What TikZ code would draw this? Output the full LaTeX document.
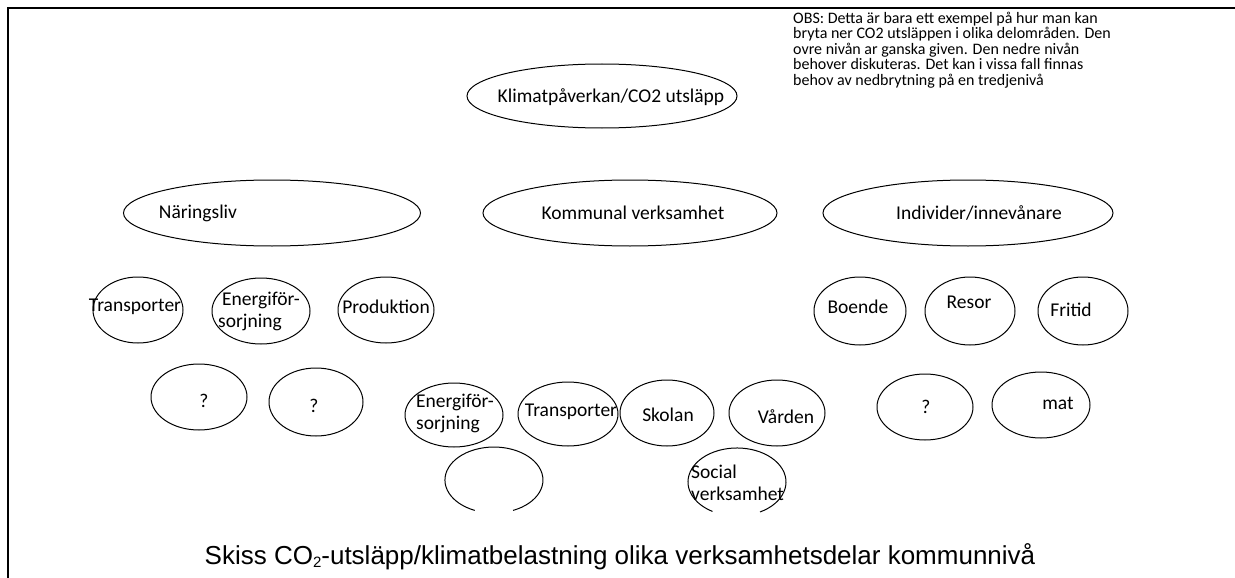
\documentclass[tikz,border=0pt]{standalone}
\usepackage{fontspec}
\setmainfont{Carlito}
\newfontfamily\capfont{Liberation Sans}
\usetikzlibrary{shapes.geometric}
\begin{document}
\begin{tikzpicture}[x=1pt, y=-1pt,
  oval/.style n args={2}{ellipse, draw, line width=1pt, inner sep=0pt, minimum width=#1pt, minimum height=#2pt},
  txt/.style={font=\fontsize{19.5}{22}\selectfont, inner sep=0pt, align=left},
  obs/.style={font=\fontsize{16}{15.4}\selectfont, inner sep=0pt, align=left, anchor=north west}]
\useasboundingbox (0,0) rectangle (1235,578);
\draw[line width=1.5pt] (8,578) -- (8,8) -- (1235,8);
\node[obs] (note) at (793,12) {OBS: Detta är bara ett exempel på hur man kan\\bryta ner CO2 utsläppen i olika delområden. Den\\ovre nivån ar ganska given. Den nedre nivån\\behover diskuteras. Det kan i vissa fall finnas\\behov av nedbrytning på en tredjenivå};
\node[oval={270}{64}] (klimat) at (602,96) {};
\node[txt] (klimat-t) at (611,97) {Klimatpåverkan/CO2 utsläpp};
\node[oval={297}{66}] (naring) at (272,213) {};
\node[txt] (naring-t) at (198,213) {Näringsliv};
\node[oval={294}{66}] (kommun) at (630,213) {};
\node[txt] (kommun-t) at (633,213) {Kommunal verksamhet};
\node[oval={290}{66}] (individ) at (968,213) {};
\node[txt] (individ-t) at (979,213) {Individer/innevånare};
\node[oval={90}{66}] (n-trans) at (138,310) {};
\node[txt] (n-trans-t) at (135,307) {Transporter};
\node[oval={98}{66}] (n-energi) at (261,311) {};
\node[txt, anchor=west] (n-energi-t) at (218,311) {\hspace{4pt}Energiför-\\sorjning};
\node[oval={96}{66}] (n-prod) at (386,310) {};
\node[txt] (n-prod-t) at (386,307) {Produktion};
\node[oval={92}{68}] (i-boende) at (860,311) {};
\node[txt] (i-boende-t) at (858,307) {Boende};
\node[oval={90}{68}] (i-resor) at (970,311) {};
\node[txt] (i-resor-t) at (969,302) {Resor};
\node[oval={90}{68}] (i-fritid) at (1083,311) {};
\node[txt] (i-fritid-t) at (1071,310) {Fritid};
\node[oval={96}{66}] (n-q1) at (199,397) {};
\node[txt] (n-q1-t) at (204,401) {?};
\node[oval={94}{68}] (n-q2) at (316,402) {};
\node[txt] (n-q2-t) at (314,406) {?};
\node[oval={98}{64}] (k-energi) at (454,415) {};
\node[txt, anchor=west] (k-energi-t) at (416,413) {Energiför-\\sorjning};
\node[oval={100}{64}] (k-trans) at (568,414) {};
\node[txt] (k-trans-t) at (571,412) {Transporter};
\node[oval={94}{66}] (k-skola) at (667,413) {};
\node[txt] (k-skola-t) at (668,415) {Skolan};
\node[oval={96}{66}] (k-varden) at (777,413) {};
\node[txt] (k-varden-t) at (786,417) {Vården};
\node[oval={96}{66}] (i-q) at (925,407) {};
\node[txt] (i-q-t) at (926,407) {?};
\node[oval={98}{66}] (i-mat) at (1041,405) {};
\node[txt] (i-mat-t) at (1058,403) {mat};
\draw[line width=1pt] (513.1,510.4) arc[start angle=293, end angle=607, x radius=49pt, y radius=33pt];
\draw[line width=1pt] (760,512) arc[start angle=298, end angle=600, x radius=49pt, y radius=34pt];
\node[txt, anchor=west] (k-social-t) at (691,483) {Social\\verksamhet};
\node[font=\capfont\fontsize{26}{30}\selectfont, inner sep=0pt] (cap) at (620,557) {Skiss CO\raisebox{-3pt}{\fontsize{15}{15}\selectfont 2}-utsläpp/klimatbelastning olika verksamhetsdelar kommunnivå};
\end{tikzpicture}
\end{document}
